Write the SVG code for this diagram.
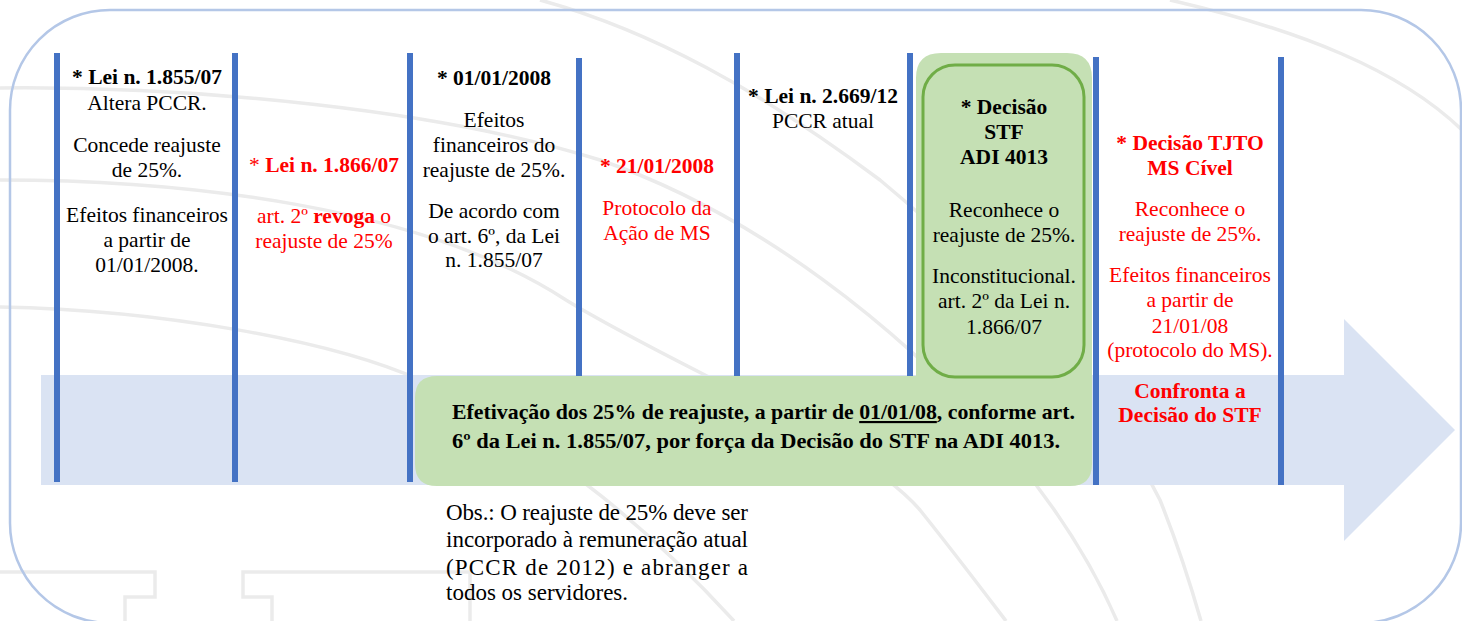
<svg xmlns="http://www.w3.org/2000/svg" width="1462" height="621" viewBox="0 0 1462 621">
<style>
.t{font-family:'Liberation Serif','DejaVu Serif',serif;font-size:21.5px;text-anchor:middle;fill:#000}
.b{font-weight:bold}
.r{fill:#ff0000}
.wm{fill:none;stroke:#ebebeb;stroke-width:3.5}
.div{stroke:#4472c4;stroke-width:6}
.o{font-family:'Liberation Serif','DejaVu Serif',serif;font-size:23px;fill:#000}
</style>
<rect width="1462" height="621" fill="#ffffff"/>
<g id="watermark">
<path class="wm" d="M0,88 C200,86 440,110 600,160 C760,215 900,330 1000,440 C1060,510 1095,570 1117,621"/>
<path class="wm" d="M0,180 C180,180 420,205 566,300 C680,370 860,440 920,510 C960,560 990,600 1006,621"/>
<path class="wm" d="M0,307 C160,310 330,340 420,380 C560,450 660,540 734,621"/>
<path class="wm" d="M540,0 C650,30 760,90 880,180 C1000,280 1110,400 1160,500 C1180,550 1195,600 1201,621"/>
<path class="wm" d="M1170,0 C1300,30 1400,70 1462,130"/>
<path class="wm" d="M0,572 H155 V597 H125 V621"/>
<path class="wm" d="M272,621 V597 H243 V572 H470 V621"/>
</g>
<g id="frame">
<rect x="10" y="10" width="1451" height="613" rx="100" ry="100" fill="none" stroke="#b4c7e7" stroke-width="2.5"/>
</g>
<g id="connectors">
<path id="timeline-arrow" d="M41,375 H1344 V319 L1455,430 L1344,541 V485 H41 Z" fill="#dae3f3"/>
<line class="div" x1="57" y1="53" x2="57" y2="482"/>
<line class="div" x1="235" y1="53" x2="235" y2="482"/>
<line class="div" x1="410" y1="53" x2="410" y2="482"/>
<line class="div" x1="579" y1="58" x2="579" y2="378"/>
<line class="div" x1="737" y1="53" x2="737" y2="378"/>
<line class="div" x1="910" y1="53" x2="910" y2="378"/>
<line class="div" x1="1096" y1="57" x2="1096" y2="485"/>
<line class="div" x1="1281" y1="57" x2="1281" y2="485"/>
</g>
<g id="efetivacao">
<path d="M437,376 H916 V78 Q916,53 941,53 H1067 Q1092,53 1092,78 V464 Q1092,486 1070,486 H437 Q415,486 415,464 V398 Q415,376 437,376 Z" fill="#c5e0b4"/>
<text class="t b" x="452" y="419" style="text-anchor:start" textLength="623" lengthAdjust="spacingAndGlyphs">Efetivação dos 25% de reajuste, a partir de <tspan text-decoration="underline">01/01/08</tspan>, conforme art.</text>
<text class="t b" x="452" y="448" style="text-anchor:start" textLength="608" lengthAdjust="spacingAndGlyphs">6º da Lei n. 1.855/07, por força da Decisão do STF na ADI 4013.</text>
</g>
<g id="n-lei1855">
<text class="t b" x="147" y="84">* Lei n. 1.855/07</text>
<text class="t" x="147" y="110">Altera PCCR.</text>
<text class="t" x="147" y="152">Concede reajuste</text>
<text class="t" x="147" y="177">de 25%.</text>
<text class="t" x="147" y="222">Efeitos financeiros</text>
<text class="t" x="147" y="247">a partir de</text>
<text class="t" x="147" y="272">01/01/2008.</text>
</g>
<g id="n-lei1866">
<text class="t r" x="324" y="172">* <tspan class="b">Lei n. 1.866/07</tspan></text>
<text class="t r" x="324" y="223">art. 2º <tspan class="b">revoga</tspan> o</text>
<text class="t r" x="324" y="248">reajuste de 25%</text>
</g>
<g id="n-01012008">
<text class="t b" x="494" y="85">* 01/01/2008</text>
<text class="t" x="494" y="127">Efeitos</text>
<text class="t" x="494" y="152">financeiros do</text>
<text class="t" x="494" y="177">reajuste de 25%.</text>
<text class="t" x="494" y="218">De acordo com</text>
<text class="t" x="494" y="243">o art. 6º, da Lei</text>
<text class="t" x="494" y="267">n. 1.855/07</text>
</g>
<g id="n-21012008">
<text class="t r b" x="657" y="173">* 21/01/2008</text>
<text class="t r" x="657" y="215">Protocolo da</text>
<text class="t r" x="657" y="240">Ação de MS</text>
</g>
<g id="n-lei2669">
<text class="t b" x="823" y="103">* Lei n. 2.669/12</text>
<text class="t" x="823" y="128">PCCR atual</text>
</g>
<g id="n-stf">
<rect x="923" y="65" width="161" height="312" rx="32" ry="32" fill="#c5e0b4" stroke="#70ad47" stroke-width="3"/>
<text class="t b" x="1004" y="114">* Decisão</text>
<text class="t b" x="1004" y="139">STF</text>
<text class="t b" x="1004" y="164">ADI 4013</text>
<text class="t" x="1004" y="217">Reconhece o</text>
<text class="t" x="1004" y="242">reajuste de 25%.</text>
<text class="t" x="1004" y="283">Inconstitucional.</text>
<text class="t" x="1004" y="308">art. 2º da Lei n.</text>
<text class="t" x="1004" y="334">1.866/07</text>
</g>
<g id="n-tjto">
<text class="t r b" x="1190" y="150">* Decisão TJTO</text>
<text class="t r b" x="1190" y="175">MS Cível</text>
<text class="t r" x="1190" y="216">Reconhece o</text>
<text class="t r" x="1190" y="241">reajuste de 25%.</text>
<text class="t r" x="1190" y="282">Efeitos financeiros</text>
<text class="t r" x="1190" y="307">a partir de</text>
<text class="t r" x="1190" y="333">21/01/08</text>
<text class="t r" x="1190" y="357">(protocolo do MS).</text>
<text class="t r b" x="1190" y="398">Confronta a</text>
<text class="t r b" x="1190" y="422">Decisão do STF</text>
</g>
<g id="n-obs">
<text class="o" x="446" y="520" textLength="302" lengthAdjust="spacing">Obs.: O reajuste de 25% deve ser</text>
<text class="o" x="446" y="547" textLength="302" lengthAdjust="spacing">incorporado à remuneração atual</text>
<text class="o" x="446" y="575" textLength="302" lengthAdjust="spacing">(PCCR de 2012) e abranger a</text>
<text class="o" x="446" y="600">todos os servidores.</text>
</g>
</svg>
